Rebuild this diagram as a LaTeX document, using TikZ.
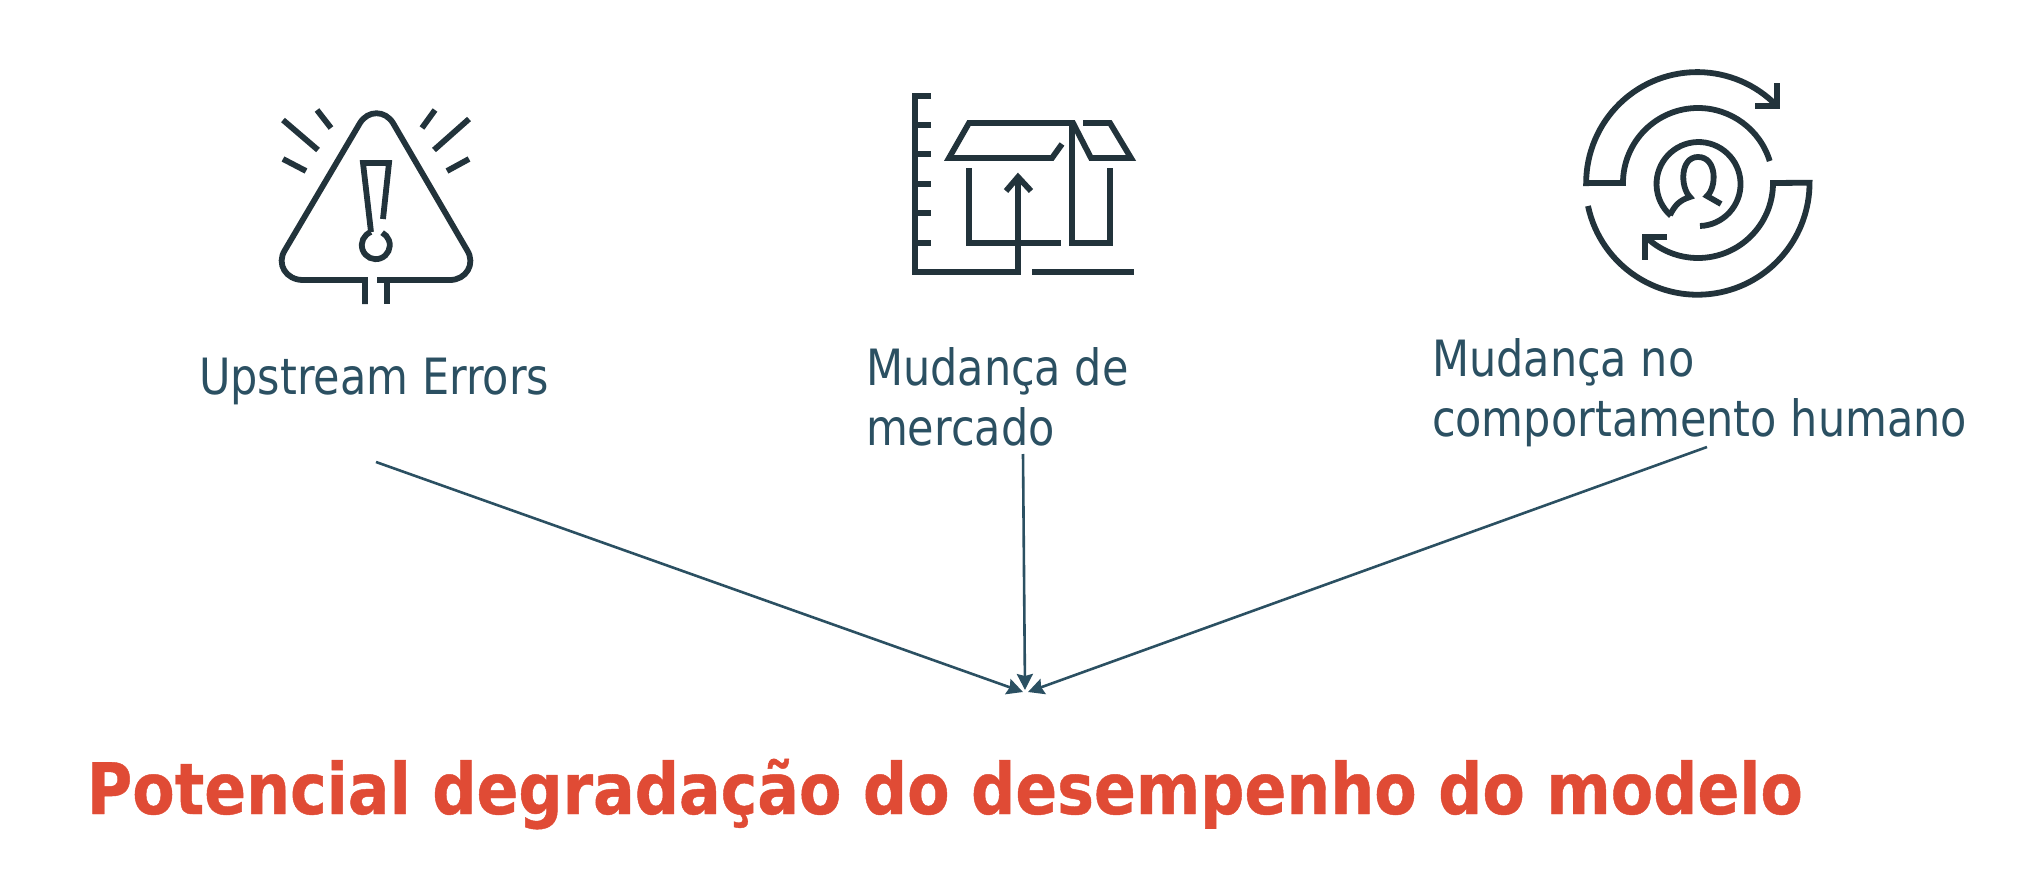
\documentclass[tikz,border=0pt]{standalone}
\usetikzlibrary{arrows.meta}
\usepackage{fontspec}
\setmainfont[FakeStretch=0.86]{DejaVu Sans}
\newfontfamily\titlefont[FakeStretch=0.87,FakeBold=0.6]{DejaVu Sans Bold}
\begin{document}
\begin{tikzpicture}[x=0.5pt,y=-0.5pt,
  icon/.style={draw=icondark,line width=2.9pt,miter limit=10},
  lbl/.style={text=labelteal,font=\fontsize{25pt}{30pt}\selectfont,inner sep=0pt,outer sep=0pt,anchor=base west,align=left},
  conn/.style={draw=labelteal,line width=1.3pt,-{Stealth[length=8pt,width=8pt,inset=1pt]}}]
\definecolor{icondark}{HTML}{22333B}
\definecolor{labelteal}{HTML}{2B5062}
\definecolor{titlered}{HTML}{E04B35}
\useasboundingbox (0,0) rectangle (2042,878);
% warning icon
\draw[icon] (365,304) -- (365,280) -- (303,280) .. controls (286,280) and (276,264) .. (285,250) -- (360,123) .. controls (368,110) and (385,110) .. (393,123) -- (467,250) .. controls (476,264) and (466,280) .. (450,280) -- (377,280);
\draw[icon] (387,280) -- (387,304);
\draw[icon] (283,120) -- (318,150);
\draw[icon] (317,110) -- (331,128);
\draw[icon] (283,159) -- (306,171);
\draw[icon] (469,119) -- (434,150);
\draw[icon] (435,110) -- (422,128);
\draw[icon] (469,159) -- (447,171);
\draw[icon] (371,232) -- (363,163) -- (389,163) -- (383,219);
\draw[icon] (371,232) arc[start angle=-110,end angle=-423,x radius=14,y radius=14];
% box icon
\draw[icon] (931,96) -- (915,96) -- (915,272) -- (1018,272) -- (1018,177);
\draw[icon] (1006,191) -- (1018,177) -- (1031,191);
\foreach \yy in {125,154,184,213,243} \draw[icon] (915,\yy) -- (931,\yy);
\draw[icon] (1032,272) -- (1134,272);
\draw[icon] (969,168) -- (969,243) -- (1061,243);
\draw[icon] (1072,123) -- (1072,243) -- (1110,243) -- (1110,168);
\draw[icon] (1062,144) -- (1052,158) -- (949,158) -- (969,123) -- (1073,123) -- (1091,158) -- (1131,158) -- (1110,123) -- (1083,123);
% cycle icon
\draw[icon] (1777,106) arc[start angle=-44,end angle=-180,radius=111] -- (1623,183) arc[start angle=-180,end angle=-17,radius=75];
\draw[icon] (1755,106) -- (1777,106) -- (1777,83);
\draw[icon] (1588,206) arc[start angle=168,end angle=0,radius=112] -- (1773,183) arc[start angle=0,end angle=134,radius=75];
\draw[icon] (1667,237) -- (1645,237) -- (1645,260);
\draw[icon] (1700,226) arc[start angle=88,end angle=-229,radius=42];
\draw[icon] (1670,215) .. controls (1675,205) and (1680,200) .. (1690,197) .. controls (1680,187) and (1680,157) .. (1698,157) .. controls (1717,157) and (1717,187) .. (1707,196) -- (1721,204);
% labels
\node[lbl] (upstream) at (199,394) {Upstream Errors};
\node[lbl] (mercado) at (866,445) {Mudança de\\mercado};
\node[lbl] (humano) at (1432,436) {Mudança no\\comportamento humano};
\node[inner sep=0pt,outer sep=0pt,anchor=base west,text=titlered,font=\titlefont\fontsize{35.5pt}{40pt}\selectfont] (titulo) at (87,814) {Potencial degradação do desempenho do modelo};
% connectors
\coordinate (a1) at (376,462);
\coordinate (a2) at (1023,454);
\coordinate (a3) at (1707,447);
\coordinate (t1) at (1023,692);
\coordinate (t2) at (1025,690);
\coordinate (t3) at (1028,692);
\draw[conn] (a1) -- (t1);
\draw[conn] (a2) -- (t2);
\draw[conn] (a3) -- (t3);
\end{tikzpicture}
\end{document}
